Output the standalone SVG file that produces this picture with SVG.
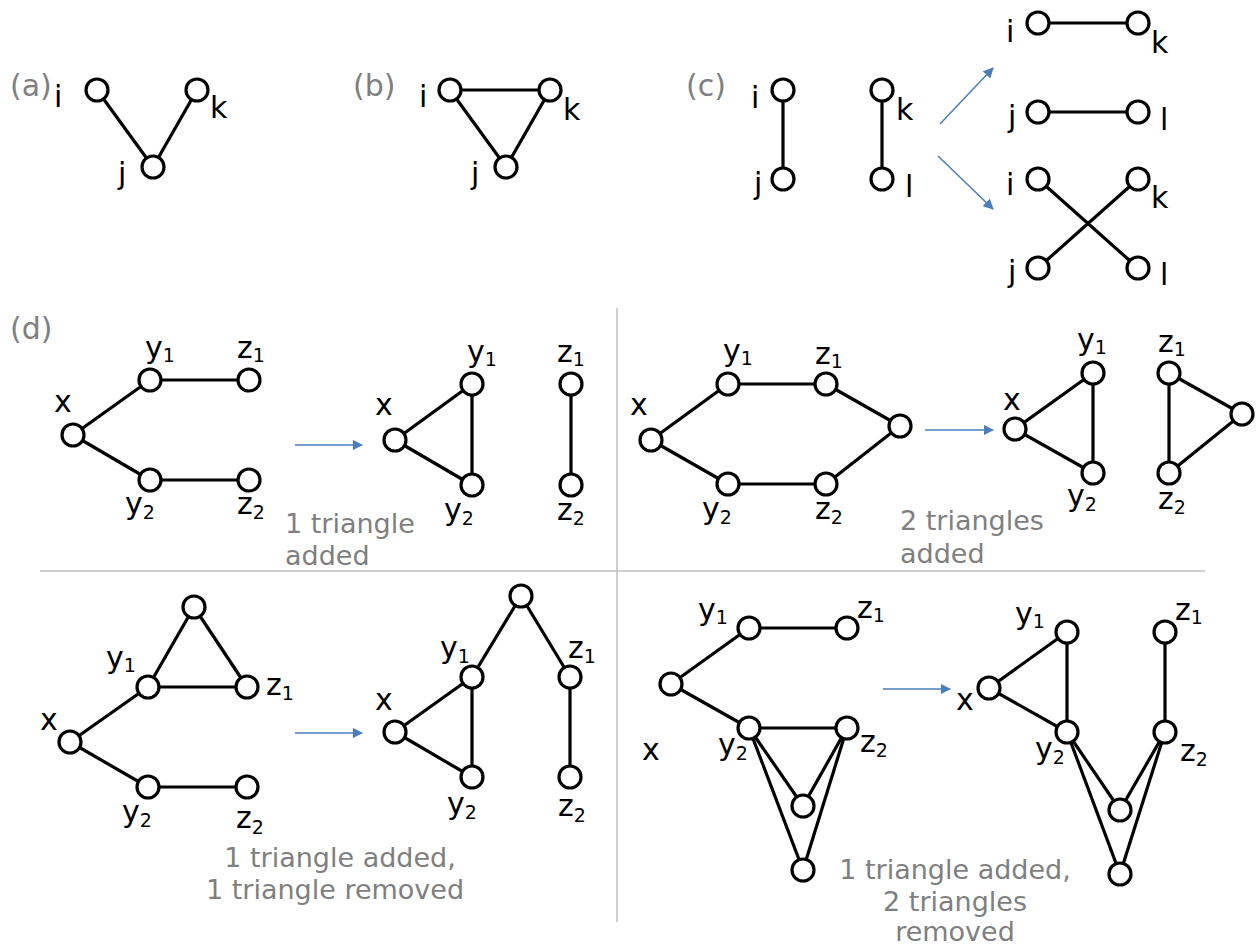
<svg xmlns="http://www.w3.org/2000/svg" width="1260" height="947" viewBox="0 0 1260 947">
  <style>
    .n { fill: #fff; stroke: #000; stroke-width: 3.2; }
    .e { stroke: #000; stroke-width: 3.2; fill: none; }
    .a { stroke: #4a7ebb; stroke-width: 1.5; fill: none; }
    .sep { stroke: #bfbfbf; stroke-width: 1.5; }
    text { font-family: "DejaVu Sans", Verdana, sans-serif; }
    .lab { font-size: 30px; fill: #000; }
    .sub { font-size: 19px; }
    .tag { font-size: 30px; fill: #7f7f7f; }
    .cap { font-size: 27px; fill: #7f7f7f; }
  </style>
  <defs>
    <marker id="head" viewBox="0 0 10 10" refX="9" refY="5" markerWidth="7" markerHeight="7" orient="auto" markerUnits="strokeWidth">
      <path d="M0,0 L10,5 L0,10 z" fill="#4a7ebb"/>
    </marker>
  </defs>
  <rect width="1260" height="947" fill="#fff"/>

  <!-- panel separators -->
  <g id="separators">
    <line class="sep" x1="617" y1="308" x2="617" y2="922"/>
    <line class="sep" x1="40" y1="571" x2="1205" y2="571"/>
  </g>

  <!-- panel tags -->
  <g id="tags">
    <text class="tag" x="10" y="96">(a)</text>
    <text class="tag" x="353" y="96">(b)</text>
    <text class="tag" x="686" y="96">(c)</text>
    <text class="tag" x="10" y="339">(d)</text>
  </g>

  <!-- edges and arrows -->
  <g id="connectors">
    <!-- (a) -->
    <line class="e" x1="97" y1="90" x2="153" y2="167"/>
    <line class="e" x1="197" y1="90" x2="153" y2="167"/>
    <!-- (b) -->
    <line class="e" x1="450" y1="90" x2="550" y2="90"/>
    <line class="e" x1="450" y1="90" x2="506" y2="167"/>
    <line class="e" x1="550" y1="90" x2="506" y2="167"/>
    <!-- (c) -->
    <line class="e" x1="783" y1="90" x2="783" y2="179"/>
    <line class="e" x1="882" y1="90" x2="882" y2="179"/>
    <line class="a" x1="940" y1="124" x2="993" y2="68" marker-end="url(#head)"/>
    <line class="a" x1="938" y1="156" x2="993" y2="209" marker-end="url(#head)"/>
    <line class="e" x1="1038" y1="23" x2="1138" y2="23"/>
    <line class="e" x1="1038" y1="112" x2="1138" y2="112"/>
    <line class="e" x1="1038" y1="179" x2="1138" y2="268"/>
    <line class="e" x1="1038" y1="268" x2="1138" y2="179"/>
    <!-- (d) panel 1 -->
    <line class="e" x1="73" y1="435" x2="150" y2="380"/>
    <line class="e" x1="73" y1="435" x2="150" y2="480"/>
    <line class="e" x1="150" y1="380" x2="249" y2="380"/>
    <line class="e" x1="150" y1="480" x2="249" y2="480"/>
    <line class="a" x1="295" y1="445" x2="362" y2="445" marker-end="url(#head)"/>
    <!-- (d) panel 2 -->
    <line class="e" x1="395" y1="440" x2="472" y2="384"/>
    <line class="e" x1="395" y1="440" x2="472" y2="485"/>
    <line class="e" x1="472" y1="384" x2="472" y2="485"/>
    <line class="e" x1="571" y1="384" x2="571" y2="485"/>
    <!-- (d) panel 3 -->
    <line class="e" x1="651" y1="440" x2="728" y2="384"/>
    <line class="e" x1="728" y1="384" x2="826" y2="384"/>
    <line class="e" x1="826" y1="384" x2="900" y2="426"/>
    <line class="e" x1="651" y1="440" x2="728" y2="484"/>
    <line class="e" x1="728" y1="484" x2="826" y2="484"/>
    <line class="e" x1="826" y1="484" x2="900" y2="426"/>
    <line class="a" x1="925" y1="430" x2="993" y2="430" marker-end="url(#head)"/>
    <!-- (d) panel 4 -->
    <line class="e" x1="1015" y1="429" x2="1093" y2="373"/>
    <line class="e" x1="1015" y1="429" x2="1093" y2="473"/>
    <line class="e" x1="1093" y1="373" x2="1093" y2="473"/>
    <line class="e" x1="1169" y1="373" x2="1169" y2="473"/>
    <line class="e" x1="1169" y1="373" x2="1242" y2="414"/>
    <line class="e" x1="1169" y1="473" x2="1242" y2="414"/>
    <!-- (d) panel 5 -->
    <line class="e" x1="194" y1="607" x2="148" y2="687"/>
    <line class="e" x1="194" y1="607" x2="247" y2="687"/>
    <line class="e" x1="148" y1="687" x2="247" y2="687"/>
    <line class="e" x1="70" y1="742" x2="148" y2="687"/>
    <line class="e" x1="70" y1="742" x2="148" y2="787"/>
    <line class="e" x1="148" y1="787" x2="247" y2="787"/>
    <line class="a" x1="295" y1="733" x2="362" y2="733" marker-end="url(#head)"/>
    <!-- (d) panel 6 -->
    <line class="e" x1="395" y1="732" x2="472" y2="677"/>
    <line class="e" x1="395" y1="732" x2="472" y2="777"/>
    <line class="e" x1="472" y1="677" x2="472" y2="777"/>
    <line class="e" x1="570" y1="677" x2="570" y2="777"/>
    <line class="e" x1="521" y1="596" x2="472" y2="677"/>
    <line class="e" x1="521" y1="596" x2="570" y2="677"/>
    <!-- (d) panel 7 -->
    <line class="e" x1="671" y1="684" x2="749" y2="628"/>
    <line class="e" x1="749" y1="628" x2="847" y2="628"/>
    <line class="e" x1="671" y1="684" x2="749" y2="728"/>
    <line class="e" x1="749" y1="728" x2="847" y2="728"/>
    <line class="e" x1="749" y1="728" x2="803" y2="806"/>
    <line class="e" x1="847" y1="728" x2="803" y2="806"/>
    <line class="e" x1="749" y1="728" x2="803" y2="870"/>
    <line class="e" x1="847" y1="728" x2="803" y2="870"/>
    <line class="a" x1="883" y1="689" x2="950" y2="689" marker-end="url(#head)"/>
    <!-- (d) panel 8 -->
    <line class="e" x1="989" y1="688" x2="1067" y2="632"/>
    <line class="e" x1="989" y1="688" x2="1067" y2="732"/>
    <line class="e" x1="1067" y1="632" x2="1067" y2="732"/>
    <line class="e" x1="1165" y1="632" x2="1165" y2="732"/>
    <line class="e" x1="1067" y1="732" x2="1120" y2="810"/>
    <line class="e" x1="1165" y1="732" x2="1120" y2="810"/>
    <line class="e" x1="1067" y1="732" x2="1120" y2="874"/>
    <line class="e" x1="1165" y1="732" x2="1120" y2="874"/>
  </g>

  <!-- (a) nodes -->
  <g id="a-i"><circle class="n" cx="97" cy="90" r="11"/><text class="lab" x="54" y="107">i</text></g>
  <g id="a-k"><circle class="n" cx="197" cy="90" r="11"/><text class="lab" x="210" y="118">k</text></g>
  <g id="a-j"><circle class="n" cx="153" cy="167" r="11"/><text class="lab" x="118" y="184">j</text></g>

  <!-- (b) nodes -->
  <g id="b-i"><circle class="n" cx="450" cy="90" r="11"/><text class="lab" x="419" y="107">i</text></g>
  <g id="b-k"><circle class="n" cx="550" cy="90" r="11"/><text class="lab" x="563" y="120">k</text></g>
  <g id="b-j"><circle class="n" cx="506" cy="167" r="11"/><text class="lab" x="471" y="184">j</text></g>

  <!-- (c) nodes -->
  <g id="c-i"><circle class="n" cx="783" cy="90" r="11"/><text class="lab" x="751" y="108">i</text></g>
  <g id="c-j"><circle class="n" cx="783" cy="179" r="11"/><text class="lab" x="754" y="194">j</text></g>
  <g id="c-k"><circle class="n" cx="882" cy="90" r="11"/><text class="lab" x="896" y="120">k</text></g>
  <g id="c-l"><circle class="n" cx="882" cy="179" r="11"/><text class="lab" x="905" y="197">l</text></g>
  <g id="c1-i"><circle class="n" cx="1038" cy="23" r="11"/><text class="lab" x="1006" y="42">i</text></g>
  <g id="c1-k"><circle class="n" cx="1138" cy="23" r="11"/><text class="lab" x="1151" y="53">k</text></g>
  <g id="c1-j"><circle class="n" cx="1038" cy="112" r="11"/><text class="lab" x="1008" y="127">j</text></g>
  <g id="c1-l"><circle class="n" cx="1138" cy="112" r="11"/><text class="lab" x="1160" y="130">l</text></g>
  <g id="c2-i"><circle class="n" cx="1038" cy="179" r="11"/><text class="lab" x="1006" y="195">i</text></g>
  <g id="c2-k"><circle class="n" cx="1138" cy="179" r="11"/><text class="lab" x="1151" y="208">k</text></g>
  <g id="c2-j"><circle class="n" cx="1038" cy="268" r="11"/><text class="lab" x="1008" y="282">j</text></g>
  <g id="c2-l"><circle class="n" cx="1138" cy="268" r="11"/><text class="lab" x="1160" y="285">l</text></g>

  <!-- (d) panel 1 nodes -->
  <g id="d1-x"><circle class="n" cx="73" cy="435" r="11"/><text class="lab" x="54" y="412">x</text></g>
  <g id="d1-y1"><circle class="n" cx="150" cy="380" r="11"/><text class="lab" x="145" y="358">y<tspan class="sub" dy="4">1</tspan></text></g>
  <g id="d1-z1"><circle class="n" cx="249" cy="380" r="11"/><text class="lab" x="237" y="358">z<tspan class="sub" dy="4">1</tspan></text></g>
  <g id="d1-y2"><circle class="n" cx="150" cy="480" r="11"/><text class="lab" x="125" y="514">y<tspan class="sub" dy="5">2</tspan></text></g>
  <g id="d1-z2"><circle class="n" cx="249" cy="480" r="11"/><text class="lab" x="237" y="514">z<tspan class="sub" dy="5">2</tspan></text></g>

  <!-- (d) panel 2 nodes -->
  <g id="d2-x"><circle class="n" cx="395" cy="440" r="11"/><text class="lab" x="375" y="415">x</text></g>
  <g id="d2-y1"><circle class="n" cx="472" cy="384" r="11"/><text class="lab" x="467" y="362">y<tspan class="sub" dy="4">1</tspan></text></g>
  <g id="d2-y2"><circle class="n" cx="472" cy="485" r="11"/><text class="lab" x="444" y="520">y<tspan class="sub" dy="5">2</tspan></text></g>
  <g id="d2-z1"><circle class="n" cx="571" cy="384" r="11"/><text class="lab" x="557" y="362">z<tspan class="sub" dy="4">1</tspan></text></g>
  <g id="d2-z2"><circle class="n" cx="571" cy="485" r="11"/><text class="lab" x="557" y="520">z<tspan class="sub" dy="5">2</tspan></text></g>
  <g id="d2-note"><text class="cap" x="285" y="533">1 triangle</text><text class="cap" x="285" y="565">added</text></g>

  <!-- (d) panel 3 nodes -->
  <g id="d3-x"><circle class="n" cx="651" cy="440" r="11"/><text class="lab" x="630" y="415">x</text></g>
  <g id="d3-y1"><circle class="n" cx="728" cy="384" r="11"/><text class="lab" x="723" y="361">y<tspan class="sub" dy="4">1</tspan></text></g>
  <g id="d3-z1"><circle class="n" cx="826" cy="384" r="11"/><text class="lab" x="815" y="364">z<tspan class="sub" dy="4">1</tspan></text></g>
  <g id="d3-r"><circle class="n" cx="900" cy="426" r="11"/></g>
  <g id="d3-y2"><circle class="n" cx="728" cy="484" r="11"/><text class="lab" x="702" y="519">y<tspan class="sub" dy="5">2</tspan></text></g>
  <g id="d3-z2"><circle class="n" cx="826" cy="484" r="11"/><text class="lab" x="815" y="519">z<tspan class="sub" dy="5">2</tspan></text></g>

  <!-- (d) panel 4 nodes -->
  <g id="d4-x"><circle class="n" cx="1015" cy="429" r="11"/><text class="lab" x="1003" y="410">x</text></g>
  <g id="d4-y1"><circle class="n" cx="1093" cy="373" r="11"/><text class="lab" x="1077" y="350">y<tspan class="sub" dy="4">1</tspan></text></g>
  <g id="d4-y2"><circle class="n" cx="1093" cy="473" r="11"/><text class="lab" x="1067" y="506">y<tspan class="sub" dy="5">2</tspan></text></g>
  <g id="d4-z1"><circle class="n" cx="1169" cy="373" r="11"/><text class="lab" x="1158" y="352">z<tspan class="sub" dy="4">1</tspan></text></g>
  <g id="d4-z2"><circle class="n" cx="1169" cy="473" r="11"/><text class="lab" x="1158" y="509">z<tspan class="sub" dy="5">2</tspan></text></g>
  <g id="d4-r"><circle class="n" cx="1242" cy="414" r="11"/></g>
  <g id="d4-note"><text class="cap" x="900" y="530">2 triangles</text><text class="cap" x="900" y="563">added</text></g>

  <!-- (d) panel 5 nodes -->
  <g id="d5-t"><circle class="n" cx="194" cy="607" r="11"/></g>
  <g id="d5-y1"><circle class="n" cx="148" cy="687" r="11"/><text class="lab" x="106" y="668">y<tspan class="sub" dy="4">1</tspan></text></g>
  <g id="d5-z1"><circle class="n" cx="247" cy="687" r="11"/><text class="lab" x="266" y="695">z<tspan class="sub" dy="5">1</tspan></text></g>
  <g id="d5-x"><circle class="n" cx="70" cy="742" r="11"/><text class="lab" x="40" y="730">x</text></g>
  <g id="d5-y2"><circle class="n" cx="148" cy="787" r="11"/><text class="lab" x="122" y="822">y<tspan class="sub" dy="5">2</tspan></text></g>
  <g id="d5-z2"><circle class="n" cx="247" cy="787" r="11"/><text class="lab" x="236" y="828">z<tspan class="sub" dy="6">2</tspan></text></g>

  <!-- (d) panel 6 nodes -->
  <g id="d6-x"><circle class="n" cx="395" cy="732" r="11"/><text class="lab" x="375" y="710">x</text></g>
  <g id="d6-y1"><circle class="n" cx="472" cy="677" r="11"/><text class="lab" x="440" y="658">y<tspan class="sub" dy="5">1</tspan></text></g>
  <g id="d6-y2"><circle class="n" cx="472" cy="777" r="11"/><text class="lab" x="447" y="814">y<tspan class="sub" dy="5">2</tspan></text></g>
  <g id="d6-z1"><circle class="n" cx="570" cy="677" r="11"/><text class="lab" x="568" y="658">z<tspan class="sub" dy="5">1</tspan></text></g>
  <g id="d6-z2"><circle class="n" cx="570" cy="777" r="11"/><text class="lab" x="558" y="816">z<tspan class="sub" dy="6">2</tspan></text></g>
  <g id="d6-t"><circle class="n" cx="521" cy="596" r="11"/></g>
  <g id="d6-note">
    <text class="cap" x="340" y="867" text-anchor="middle">1 triangle added,</text>
    <text class="cap" x="335" y="899" text-anchor="middle">1 triangle removed</text>
  </g>

  <!-- (d) panel 7 nodes -->
  <g id="d7-y1"><circle class="n" cx="749" cy="628" r="11"/><text class="lab" x="698" y="620">y<tspan class="sub" dy="4">1</tspan></text></g>
  <g id="d7-z1"><circle class="n" cx="847" cy="628" r="11"/><text class="lab" x="857" y="618">z<tspan class="sub" dy="4">1</tspan></text></g>
  <g id="d7-x"><circle class="n" cx="671" cy="684" r="11"/><text class="lab" x="642" y="760">x</text></g>
  <g id="d7-y2"><circle class="n" cx="749" cy="728" r="11"/><text class="lab" x="718" y="755">y<tspan class="sub" dy="5">2</tspan></text></g>
  <g id="d7-z2"><circle class="n" cx="847" cy="728" r="11"/><text class="lab" x="860" y="752">z<tspan class="sub" dy="5">2</tspan></text></g>
  <g id="d7-m"><circle class="n" cx="803" cy="806" r="11"/></g>
  <g id="d7-b"><circle class="n" cx="803" cy="870" r="11"/></g>

  <!-- (d) panel 8 nodes -->
  <g id="d8-x"><circle class="n" cx="989" cy="688" r="11"/><text class="lab" x="956" y="710">x</text></g>
  <g id="d8-y1"><circle class="n" cx="1067" cy="632" r="11"/><text class="lab" x="1015" y="624">y<tspan class="sub" dy="4">1</tspan></text></g>
  <g id="d8-z1"><circle class="n" cx="1165" cy="632" r="11"/><text class="lab" x="1175" y="620">z<tspan class="sub" dy="4">1</tspan></text></g>
  <g id="d8-y2"><circle class="n" cx="1067" cy="732" r="11"/><text class="lab" x="1035" y="759">y<tspan class="sub" dy="5">2</tspan></text></g>
  <g id="d8-z2"><circle class="n" cx="1165" cy="732" r="11"/><text class="lab" x="1180" y="761">z<tspan class="sub" dy="5">2</tspan></text></g>
  <g id="d8-m"><circle class="n" cx="1120" cy="810" r="11"/></g>
  <g id="d8-b"><circle class="n" cx="1120" cy="874" r="11"/></g>
  <g id="d8-note">
    <text class="cap" x="955" y="879" text-anchor="middle">1 triangle added,</text>
    <text class="cap" x="955" y="911" text-anchor="middle">2 triangles</text>
    <text class="cap" x="955" y="941" text-anchor="middle">removed</text>
  </g>
</svg>
